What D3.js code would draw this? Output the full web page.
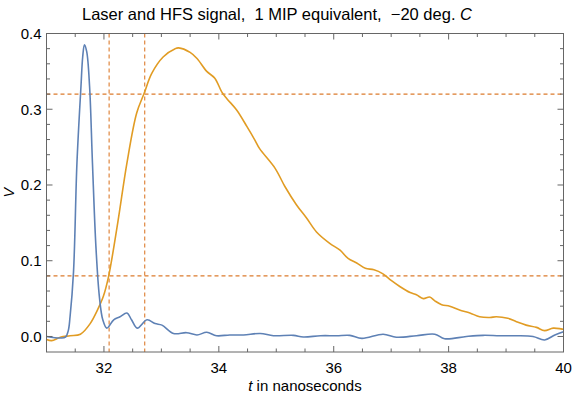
<!DOCTYPE html>
<html>
<head>
<meta charset="utf-8">
<script src="https://cdn.jsdelivr.net/npm/d3@7"></script>
<style>
  body { margin: 0; background: #fff; }
  text { font-family: "Liberation Sans", Arial, sans-serif; fill: #000; }
</style>
</head>
<body>
<div id="chart"></div>
<script>
// Data (t in ns, V)
var laserT = [31.00, 31.24, 31.33, 31.38, 31.41, 31.47, 31.53, 31.60, 31.63, 31.66, 31.70, 31.75, 31.80, 31.86, 31.92, 31.98,
  32.05, 32.17, 32.28, 32.40, 32.48, 32.58, 32.75, 32.89, 33.01, 33.21, 33.44, 33.62, 33.79, 33.96, 34.19, 34.43,
  34.72, 34.95, 35.30, 35.47, 35.77, 36.05, 36.28, 36.49, 36.86, 37.09, 37.44, 37.76, 37.93, 38.31, 38.60, 38.89,
  39.18, 39.47, 39.67, 39.85, 40.00];
var laserV = [0.000, -0.002, -0.001, 0.008, 0.026, 0.085, 0.229, 0.330, 0.369, 0.385, 0.376, 0.330, 0.229, 0.119, 0.053, 0.022,
  0.011, 0.022, 0.026, 0.031, 0.022, 0.011, 0.022, 0.017, 0.015, 0.004, 0.005, 0.002, 0.0055, 0.001, 0.002, 0.002,
  0.004, 0.001, 0.0015, -0.0007, 0.001, 0.001, 0.0015, -0.0025, 0.003, -0.001, 0.001, 0.003, -0.003, 0.000, 0.0015, 0.001,
  0.001, 0.000, -0.0046, 0.002, 0.0063];

var hfsT = [31.00, 31.09, 31.24, 31.41, 31.59, 31.76, 31.90, 31.99, 32.08, 32.24, 32.40, 32.57, 32.70, 32.83, 33.03, 33.24,
  33.30, 33.50, 33.62, 33.79, 33.93, 34.05, 34.14, 34.31, 34.49, 34.63, 34.71, 34.98, 35.15, 35.35, 35.53, 35.70,
  35.93, 36.11, 36.25, 36.40, 36.55, 36.70, 36.85, 37.00, 37.15, 37.33, 37.44, 37.56, 37.67, 37.76, 37.88, 38.02,
  38.19, 38.37, 38.54, 38.72, 38.83, 39.03, 39.18, 39.35, 39.53, 39.67, 39.82, 40.00];
var hfsV = [-0.004, -0.0055, -0.001, 0.001, 0.003, 0.017, 0.037, 0.053, 0.079, 0.150, 0.229, 0.295, 0.321, 0.347, 0.369, 0.380,
  0.381, 0.375, 0.367, 0.350, 0.341, 0.323, 0.314, 0.299, 0.277, 0.259, 0.248, 0.222, 0.198, 0.174, 0.156, 0.138,
  0.123, 0.114, 0.103, 0.097, 0.090, 0.088, 0.083, 0.074, 0.066, 0.058, 0.055, 0.050, 0.052, 0.047, 0.042, 0.040,
  0.035, 0.031, 0.026, 0.025, 0.026, 0.024, 0.0196, 0.015, 0.012, 0.0077, 0.011, 0.0095];

// 20% / 80% levels and their crossing times
var levelsV = [0.08, 0.32];
var crossT = [32.09, 32.71];

var xTicks = [32, 34, 36, 38, 40];
var yTicks = [0.0, 0.1, 0.2, 0.3, 0.4];

var svgW = 576, svgH = 398;
var margin = {top: 33.5, right: 12.5, bottom: 46, left: 46.5};
var w = svgW - margin.left - margin.right;
var h = svgH - margin.top - margin.bottom;

var svg = d3.select('#chart').append('svg')
  .attr('width', svgW)
  .attr('height', svgH);

var g = svg.append('g')
  .attr('transform', 'translate(' + margin.left + ',' + margin.top + ')');

var xScale = d3.scaleLinear().domain([31, 40]).range([0, w]);
var yScale = d3.scaleLinear().domain([-0.0205, 0.4]).range([h, 0]);

g.append('clipPath').attr('id', 'clip')
  .append('rect').attr('width', w).attr('height', h);

var plot = g.append('g').attr('clip-path', 'url(#clip)');

// dashed guide lines
var dashColor = '#dc7b2c';
plot.selectAll('.hl').data(levelsV).enter().append('line')
  .attr('x1', 0).attr('x2', w)
  .attr('y1', d => yScale(d)).attr('y2', d => yScale(d))
  .attr('stroke', dashColor).attr('stroke-width', 1.1)
  .attr('stroke-dasharray', '4,3');
plot.selectAll('.vl').data(crossT).enter().append('line')
  .attr('y1', 0).attr('y2', h)
  .attr('x1', d => xScale(d)).attr('x2', d => xScale(d))
  .attr('stroke', dashColor).attr('stroke-width', 1.1)
  .attr('stroke-dasharray', '4,3');

var line = d3.line()
  .x(d => xScale(d[0]))
  .y(d => yScale(d[1]))
  .curve(d3.curveCatmullRom.alpha(0.5));

plot.append('path')
  .datum(hfsT.map((t, i) => [t, hfsV[i]]))
  .attr('d', line)
  .attr('fill', 'none')
  .attr('stroke', '#e19c24')
  .attr('stroke-width', 1.6);

plot.append('path')
  .datum(laserT.map((t, i) => [t, laserV[i]]))
  .attr('d', line)
  .attr('fill', 'none')
  .attr('stroke', '#5e81b5')
  .attr('stroke-width', 1.6);

// frame
var frameColor = '#666';
g.append('rect')
  .attr('width', w).attr('height', h)
  .attr('fill', 'none').attr('stroke', frameColor).attr('stroke-width', 1);

// ticks, pointing inward on all four sides
var xMinor = d3.range(31, 40.01, 0.5).filter(d => xTicks.indexOf(d) < 0);
var yMinor = d3.range(0, 0.401, 0.02).filter(d => !yTicks.some(t => Math.abs(t - d) < 1e-6));

function ticks(vals, len) {
  vals.forEach(function (d) {
    var x = xScale(d);
    g.append('line').attr('x1', x).attr('x2', x).attr('y1', h).attr('y2', h - len)
      .attr('stroke', frameColor);
    g.append('line').attr('x1', x).attr('x2', x).attr('y1', 0).attr('y2', len)
      .attr('stroke', frameColor);
  });
}
function yticks(vals, len) {
  vals.forEach(function (d) {
    var y = yScale(d);
    g.append('line').attr('x1', 0).attr('x2', len).attr('y1', y).attr('y2', y)
      .attr('stroke', frameColor);
    g.append('line').attr('x1', w).attr('x2', w - len).attr('y1', y).attr('y2', y)
      .attr('stroke', frameColor);
  });
}
ticks(xTicks, 6);
ticks(xMinor, 3.5);
yticks(yTicks, 6);
yticks(yMinor, 3.5);

// tick labels
g.selectAll('.xl').data(xTicks).enter().append('text')
  .attr('x', d => xScale(d))
  .attr('y', h + 21)
  .attr('text-anchor', 'middle')
  .style('font-size', '15px')
  .text(d => d);

g.selectAll('.yl').data(yTicks).enter().append('text')
  .attr('x', -5)
  .attr('y', d => yScale(d) + 5.5)
  .attr('text-anchor', 'end')
  .style('font-size', '15px')
  .text(d => d.toFixed(1));

// axis labels
var xl = g.append('text')
  .attr('x', w / 2)
  .attr('y', h + 39)
  .attr('text-anchor', 'middle')
  .style('font-size', '15px');
xl.append('tspan').style('font-style', 'italic').text('t');
xl.append('tspan').text(' in nanoseconds');

g.append('text')
  .attr('transform', 'translate(-33,' + (h / 2) + ') rotate(-90)')
  .attr('text-anchor', 'middle')
  .style('font-size', '14.5px')
  .style('font-style', 'italic')
  .text('V');

// title
var title = svg.append('text')
  .attr('x', 277)
  .attr('y', 20)
  .attr('text-anchor', 'middle')
  .style('font-size', '16.5px')
  .attr('xml:space', 'preserve');
title.append('tspan').text('Laser and HFS signal,\u00a0 1 MIP equivalent,\u00a0 \u221220 deg. ');
title.append('tspan').style('font-style', 'italic').text('C');
</script>
</body>
</html>
